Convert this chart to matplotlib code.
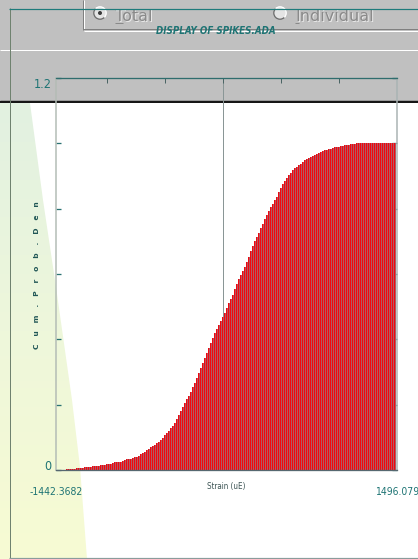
import numpy as np
import matplotlib
matplotlib.use("Agg")
import matplotlib.pyplot as plt
from matplotlib.patches import Polygon, Rectangle, Circle, Arc
from matplotlib.colors import LinearSegmentedColormap

# ---------------------------------------------------------------- data
x_min, x_max = -1442.3682, 1496.079
x_tick_labels = ["-1442.3682", "1496.079"]
y_ticks = [0.0, 0.2, 0.4, 0.6, 0.8, 1.0, 1.2]
y_tick_labels = ["0", "", "", "", "", "", "1.2"]
grid_ticks = [-1000, -500, 0, 500, 1000]

# strain of the first and last histogram bin centre
first_bin, last_bin = -1347.6, 1478.8

# cumulative probability per strain bin
cum_prob = [
    0.003, 0.004, 0.004, 0.004, 0.004, 0.005, 0.005, 0.005, 0.006, 0.009,
    0.010, 0.010, 0.010, 0.011, 0.011, 0.012, 0.013, 0.014, 0.014, 0.015,
    0.017, 0.017, 0.018, 0.021, 0.023, 0.023, 0.024, 0.026, 0.027, 0.030,
    0.033, 0.034, 0.035, 0.036, 0.039, 0.041, 0.044, 0.048, 0.051, 0.055,
    0.060, 0.064, 0.069, 0.073, 0.077, 0.082, 0.087, 0.093, 0.099, 0.106,
    0.113, 0.120, 0.128, 0.136, 0.145, 0.156, 0.168, 0.180, 0.192, 0.204,
    0.216, 0.228, 0.240, 0.253, 0.267, 0.282, 0.297, 0.312, 0.327, 0.343,
    0.358, 0.373, 0.389, 0.404, 0.418, 0.431, 0.443, 0.455, 0.467, 0.482,
    0.497, 0.510, 0.523, 0.537, 0.553, 0.570, 0.585, 0.597, 0.609, 0.622,
    0.637, 0.653, 0.670, 0.686, 0.700, 0.713, 0.727, 0.740, 0.753, 0.767,
    0.780, 0.792, 0.804, 0.815, 0.826, 0.837, 0.850, 0.862, 0.875, 0.885,
    0.893, 0.902, 0.910, 0.917, 0.924, 0.929, 0.934, 0.938, 0.943, 0.948,
    0.952, 0.955, 0.958, 0.962, 0.965, 0.967, 0.971, 0.974, 0.977, 0.979,
    0.981, 0.982, 0.984, 0.986, 0.988, 0.989, 0.990, 0.991, 0.993, 0.994,
    0.995, 0.996, 0.997, 0.998, 0.999, 1.000, 1.000, 1.000, 1.000, 1.000,
    1.000, 1.000, 1.000, 1.000, 1.000, 1.000, 1.000, 1.000, 1.000, 1.000,
    1.000, 1.000, 1.000, 1.000, 1.000,
]
strain = np.linspace(first_bin, last_bin, len(cum_prob))

# ---------------------------------------------------------------- style
W, H, DPI = 418, 559, 100
PT = 72.0 / DPI                      # points per pixel
TEAL = "#1e7474"
COND = dict(family="DejaVu Sans", fontstretch="condensed")

fig = plt.figure(figsize=(W / DPI, H / DPI), dpi=DPI, facecolor="white")

# window chrome, drawn in pixel coordinates
bg = fig.add_axes([0, 0, 1, 1], zorder=0)
bg.set_xlim(0, W)
bg.set_ylim(H, 0)
bg.axis("off")


def hline(y, x0, x1, color, px=1.0, z=2):
    bg.plot([x0, x1], [y, y], color=color, lw=px * PT, solid_capstyle="butt", zorder=z)


def vline(x, y0, y1, color, px=1.0, z=2):
    bg.plot([x, x], [y0, y1], color=color, lw=px * PT, solid_capstyle="butt", zorder=z)


# grey dialog band
bg.add_patch(Rectangle((0, 0), W, 102, facecolor="#c0c0c0", edgecolor="none", zorder=0))
# group box groove
vline(82.5, 0, 29.5, "#808080")
vline(84.0, 0, 29.0, "white")
hline(29.0, 82.5, W, "#808080")
hline(30.5, 83.5, W, "white")
hline(49.5, 0, W, "white")
hline(99.5, 0, W, "#9a9a9a")
hline(102.0, 0, W, "#161616", px=2.0)

# pale light wedge on the left
wedge_pts = [(0, 103), (30, 103), (43, 200), (56, 287), (72, 400),
             (80, 467), (87, 559), (0, 559)]
wedge = Polygon(wedge_pts, closed=True, facecolor="none", edgecolor="none")
bg.add_patch(wedge)
shade = LinearSegmentedColormap.from_list("shade", ["#e2f1e1", "#eef7db", "#f7fbd3"])
grad = np.linspace(0, 1, 256)[:, None]
img = bg.imshow(grad, extent=[0, 90, 559, 103], aspect="auto", cmap=shade,
                interpolation="bilinear", zorder=1)
img.set_clip_path(wedge)

# outer frame
vline(9.5, 8, 558, "#6f826f")
hline(557.5, 9, W, "#8a9c9c", px=1.2)

# radio buttons
for cx, checked in [(100, True), (280, False)]:
    bg.add_patch(Circle((cx, 13), 6.2, facecolor="#e4e4e4", edgecolor="none", zorder=3))
    bg.add_patch(Arc((cx, 13), 12.4, 12.4, theta1=45, theta2=225,
                     color="#6e6e6e", lw=1.3 * PT, zorder=4))
    bg.add_patch(Arc((cx, 13), 12.4, 12.4, theta1=225, theta2=405,
                     color="#ffffff", lw=1.3 * PT, zorder=4))
    if checked:
        bg.add_patch(Circle((cx, 13), 2.0, facecolor="#3a3a3a", edgecolor="none", zorder=5))

for x, label, ul in [(115, "Total", (115, 123)), (295, "Individual", (295, 299))]:
    bg.text(x + 1, 22, label, fontsize=11.5, color="#e8e8e8", va="baseline", zorder=3)
    bg.text(x, 21, label, fontsize=11.5, color="#8a8a8a", va="baseline", zorder=4)
    hline(22.5, ul[0], ul[1], "#8a8a8a", z=4)

hline(8.5, 9, W, "#1e7b7b", px=1.2, z=6)

bg.text(215.5, 30.5, "DISPLAY OF SPIKES.ADA", ha="center", va="center",
        fontsize=7.0, fontweight="bold", fontstyle="italic", color=TEAL,
        zorder=6, **COND)

# ---------------------------------------------------------------- chart
ax = fig.add_axes([56 / W, (H - 470) / H, 341 / W, 392 / H], zorder=1)
ax.set_facecolor("none")
ax.set_xlim(x_min, x_max)
ax.set_ylim(0, 1.2)

ax.axvline(0, color="#8a9696", lw=1.0 * PT, zorder=1)
step = strain[1] - strain[0]
# muted backing of each bin plus the bright bar on top of it
ax.bar(strain, cum_prob, width=step, color="#b05a62", linewidth=0, zorder=2)
ax.bar(strain, cum_prob, width=0.5 * step, color="#f2060f", linewidth=0, zorder=2.1)

ax.spines["left"].set_color("#b3bcb5")
ax.spines["left"].set_linewidth(1.5 * PT)
ax.spines["right"].set_color("#a9b3b3")
ax.spines["right"].set_linewidth(1.5 * PT)
ax.spines["top"].set_color("#2f6d6d")
ax.spines["top"].set_linewidth(1.3 * PT)
ax.spines["bottom"].set_color("#566870")
ax.spines["bottom"].set_linewidth(1.3 * PT)

ax.set_yticks(y_ticks, y_tick_labels)
ax.tick_params(axis="y", direction="in", length=5 * PT, width=1.3 * PT,
               color="#2a7272", left=True, right=True, pad=3,
               labelsize=9, labelcolor=TEAL)
for t in ax.yaxis.get_major_ticks():
    t.tick2line.set_color("#8e2a33")
ylabels = ax.get_yticklabels()
for lab in ylabels:
    lab.set_fontstretch("condensed")
ylabels[0].set_va("baseline")
ylabels[-1].set_va("top")

ax.set_xticks([x_min, x_max], x_tick_labels)
ax.tick_params(axis="x", which="major", length=0, pad=12, labelsize=7.5, labelcolor=TEAL)
for lab in ax.get_xticklabels():
    lab.set_fontstretch("condensed")
ax.set_xticks(grid_ticks, minor=True)
ax.tick_params(axis="x", which="minor", direction="in", top=True, bottom=True,
               length=5 * PT, width=1.0 * PT, color="#4b6565")

ax.set_xlabel("Strain (uE)", fontsize=5.8, color="#3d5555", **COND)
ax.xaxis.set_label_coords(0.5, -12 / 392)
ax.set_ylabel("C   u   m   .   P   r   o   b   .   D   e   n", fontsize=5.4,
              fontweight="bold", color="#1f5555")
ax.yaxis.set_label_coords(-15.5 / 341, (470 - 275.5) / 392)

fig.savefig("out.png", dpi=DPI, facecolor="white")
